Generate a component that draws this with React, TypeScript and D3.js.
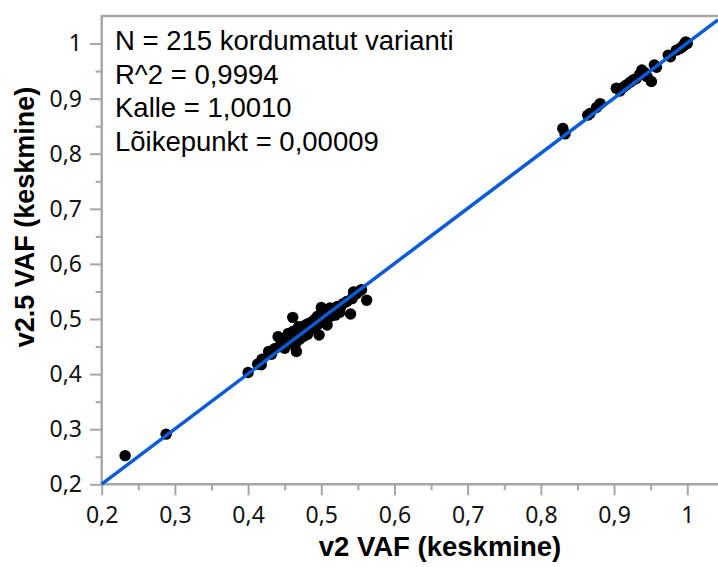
import React, { useEffect, useRef } from "react";
import * as d3 from "d3";

// v2 VAF (keskmine) vs v2.5 VAF (keskmine), visible points
const vafV2 = [
  0.232, 0.288,
  0.4, 0.413, 0.419, 0.418, 0.428, 0.432, 0.436, 0.441, 0.443, 0.447, 0.449, 0.452,
  0.455, 0.457, 0.459, 0.461, 0.462, 0.464, 0.466, 0.467, 0.469, 0.471, 0.473, 0.475,
  0.477, 0.479, 0.481, 0.483, 0.485, 0.487, 0.489, 0.491, 0.493, 0.495, 0.497, 0.498,
  0.5, 0.502, 0.504, 0.506, 0.508, 0.51, 0.513, 0.516, 0.519, 0.522, 0.526, 0.53,
  0.535, 0.54, 0.542, 0.544, 0.548, 0.552, 0.555, 0.562, 0.458, 0.47, 0.481, 0.495,
  0.512, 0.525, 0.46, 0.45,
  0.83, 0.833, 0.864, 0.867, 0.876, 0.881, 0.903, 0.908, 0.913, 0.917, 0.922, 0.926,
  0.93, 0.935, 0.938, 0.942, 0.945, 0.951, 0.955, 0.958, 0.974, 0.977, 0.985, 0.99,
  0.993, 0.996, 0.998, 1.0, 0.995,
];
const vafV25 = [
  0.252, 0.291,
  0.403, 0.418, 0.427, 0.417, 0.441, 0.436, 0.446, 0.468, 0.45, 0.455, 0.462, 0.458,
  0.474, 0.466, 0.461, 0.503, 0.478, 0.452, 0.441, 0.47, 0.486, 0.474, 0.48, 0.468,
  0.488, 0.482, 0.491, 0.478, 0.493, 0.486, 0.497, 0.484, 0.502, 0.49, 0.471, 0.5,
  0.521, 0.507, 0.496, 0.514, 0.489, 0.518, 0.505, 0.511, 0.507, 0.523, 0.52, 0.528,
  0.532, 0.509, 0.537, 0.549, 0.546, 0.551, 0.553, 0.534, 0.47, 0.463, 0.472, 0.505,
  0.52, 0.512, 0.455, 0.447,
  0.846, 0.836, 0.87, 0.873, 0.884, 0.891, 0.919, 0.914, 0.921, 0.925, 0.93, 0.934,
  0.936, 0.944, 0.952, 0.947, 0.94, 0.931, 0.961, 0.957, 0.979, 0.976, 0.988, 0.991,
  0.994, 0.999, 1.003, 1.0, 0.996,
];

const majorTicks = [0.2, 0.3, 0.4, 0.5, 0.6, 0.7, 0.8, 0.9, 1];
const minorTicks = [0.25, 0.35, 0.45, 0.55, 0.65, 0.75, 0.85, 0.95];

const fitSlope = 1.001;
const fitIntercept = 0.00009;
const statLines = [
  "N = 215 kordumatut varianti",
  "R^2 = 0,9994",
  "Kalle = 1,0010",
  "Lõikepunkt = 0,00009",
];

const W = 718;
const H = 567;
const AXIS = "#a6a6a6";

const fmt = (d: number) => (d === 1 ? "1" : d3.format(".1f")(d).replace(".", ","));

export default function App() {
  const ref = useRef<SVGSVGElement>(null);

  useEffect(() => {
    const svg = d3.select(ref.current);
    svg.selectAll("*").remove();

    const x = d3.scaleLinear().domain([0.2, 1.042]).range([101.7, 718]);
    const y = d3.scaleLinear().domain([0.2, 1.05]).range([484.3, 16]);

    const tickFont = "'Noto Sans', 'Open Sans', sans-serif";

    // x axis
    const gx = svg.append("g").attr("transform", `translate(0,${y(0.2)})`);
    gx.call(
      d3.axisBottom(x).tickValues(majorTicks).tickSize(11).tickPadding(11).tickFormat((d) => fmt(+d))
    );
    gx.append("g").call(d3.axisBottom(x).tickValues(minorTicks).tickSize(6).tickFormat(() => ""));

    // y axis
    const gy = svg.append("g").attr("transform", `translate(${x(0.2)},0)`);
    gy.call(
      d3.axisLeft(y).tickValues(majorTicks).tickSize(11.7).tickPadding(8).tickFormat((d) => fmt(+d))
    );
    gy.append("g").call(d3.axisLeft(y).tickValues(minorTicks).tickSize(6).tickFormat(() => ""));

    svg.selectAll(".domain").remove();
    svg.selectAll(".tick line").attr("stroke", AXIS).attr("stroke-width", 2);
    svg
      .selectAll(".tick text")
      .attr("font-family", tickFont)
      .attr("font-size", 23)
      .attr("fill", "#111");

    // frame: left, bottom, top
    svg
      .append("path")
      .attr("d", `M718,${y(1.05)}H${x(0.2)}V${y(0.2)}H718`)
      .attr("fill", "none")
      .attr("stroke", AXIS)
      .attr("stroke-width", 2.4);

    // points
    svg
      .append("g")
      .selectAll("circle")
      .data(vafV2.map((v, i) => [v, vafV25[i]]))
      .join("circle")
      .attr("cx", (d) => x(d[0]))
      .attr("cy", (d) => y(d[1]))
      .attr("r", 5.7)
      .attr("fill", "#000");

    // fit line
    const line = d3
      .line<number>()
      .x((d) => x(d))
      .y((d) => y(fitIntercept + fitSlope * d));
    svg
      .append("path")
      .attr("d", line([0.2, 1.042]))
      .attr("fill", "none")
      .attr("stroke", "#0a5bd8")
      .attr("stroke-width", 3.5);

    // stats text
    svg
      .append("g")
      .selectAll("text")
      .data(statLines)
      .join("text")
      .attr("x", 115)
      .attr("y", (d, i) => 50 + i * 33.7)
      .attr("font-family", "'Liberation Sans', Arial, sans-serif")
      .attr("font-size", 27.5)
      .attr("fill", "#000")
      .text((d) => d);

    // axis titles
    svg
      .append("text")
      .attr("x", 440)
      .attr("y", 556)
      .attr("text-anchor", "middle")
      .attr("font-family", "'Liberation Sans', Arial, sans-serif")
      .attr("font-weight", "bold")
      .attr("font-size", 27.5)
      .text("v2 VAF (keskmine)");

    svg
      .append("text")
      .attr("transform", "translate(34,217) rotate(-90)")
      .attr("text-anchor", "middle")
      .attr("font-family", "'Liberation Sans', Arial, sans-serif")
      .attr("font-weight", "bold")
      .attr("font-size", 27)
      .text("v2.5 VAF (keskmine)");
  }, []);

  return (
    <svg
      ref={ref}
      width={W}
      height={H}
      style={{ position: "absolute", left: 0, top: 0, background: "#fff" }}
    />
  );
}
